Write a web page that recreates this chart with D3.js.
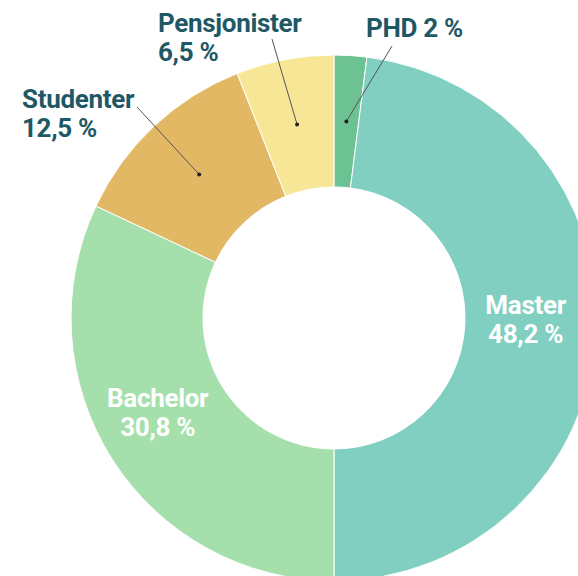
<!DOCTYPE html>
<html lang="no">
<head>
    <meta charset="UTF-8">
    <title>Utdanning</title>
    <script src="https://d3js.org/d3.v7.min.js"></script>
    <style>
        body {
            margin: 0;
            background: #fff;
            font-family: Roboto, "Open Sans", sans-serif;
        }
        .lbl {
            font-weight: bold;
            font-size: 26px;
            letter-spacing: -0.3px;
        }
    </style>
</head>
<body>
    <div id="chart"></div>
    <script>
        // data, clockwise from 12 o'clock (slice sizes as drawn, labels as printed)
        const categories = ['PHD', 'Master', 'Bachelor', 'Studenter', 'Pensjonister'];
        const values = [2, 48, 32, 12, 6];
        const valueLabels = ['2 %', '48,2 %', '30,8 %', '12,5 %', '6,5 %'];

        const colors = ['#6dc293', '#80cfc0', '#a5e0ac', '#e2b864', '#f8e697'];
        const labelColor = '#1e5865';

        const width = 578, height = 576;
        const cx = 334, cy = 318;
        const outerR = 263, innerR = 131;

        const svg = d3.select('#chart')
            .append('svg')
            .attr('width', width)
            .attr('height', height);

        const g = svg.append('g')
            .attr('transform', `translate(${cx},${cy})`);

        const pie = d3.pie().value(d => d).sort(null);
        const arc = d3.arc().innerRadius(innerR).outerRadius(outerR);

        const pieData = pie(values);

        g.selectAll('path')
            .data(pieData)
            .enter()
            .append('path')
            .attr('d', arc)
            .attr('fill', (d, i) => colors[i])
            .attr('stroke', '#fff')
            .attr('stroke-width', 1);

        // inside labels (Master, Bachelor), offset from centroid
        const inside = [
            {i: 1, dx: -5, dy: -16},
            {i: 2, dx: -10, dy: -17}
        ];
        inside.forEach(o => {
            const c = arc.centroid(pieData[o.i]);
            const x = c[0] + o.dx;
            const t = g.append('text')
                .attr('class', 'lbl')
                .attr('text-anchor', 'middle')
                .attr('fill', '#fff')
                .attr('y', c[1] + o.dy);
            t.append('tspan').attr('x', x).text(categories[o.i]);
            t.append('tspan').attr('x', x).attr('dy', 29).text(valueLabels[o.i]);
        });

        // outside labels with leader lines (page coordinates)
        const outside = [
            {i: 0, x: 366, y: 37, oneLine: true, lx: 392, ly: 46},
            {i: 3, x: 22, y: 108, lx: 137, ly: 107},
            {i: 4, x: 158, y: 32, lx: 272, ly: 39}
        ];
        outside.forEach(o => {
            const c = arc.centroid(pieData[o.i]);
            svg.append('line')
                .attr('x1', o.lx).attr('y1', o.ly)
                .attr('x2', cx + c[0]).attr('y2', cy + c[1])
                .attr('stroke', '#555')
                .attr('stroke-width', 1);
            svg.append('circle')
                .attr('cx', cx + c[0]).attr('cy', cy + c[1])
                .attr('r', 2)
                .attr('fill', '#222');
            const t = svg.append('text')
                .attr('class', 'lbl')
                .attr('fill', labelColor)
                .attr('x', o.x)
                .attr('y', o.y);
            if (o.oneLine) {
                t.text(categories[o.i] + ' ' + valueLabels[o.i]);
            } else {
                t.append('tspan').attr('x', o.x).text(categories[o.i]);
                t.append('tspan').attr('x', o.x).attr('dy', 29).text(valueLabels[o.i]);
            }
        });
    </script>
</body>
</html>
